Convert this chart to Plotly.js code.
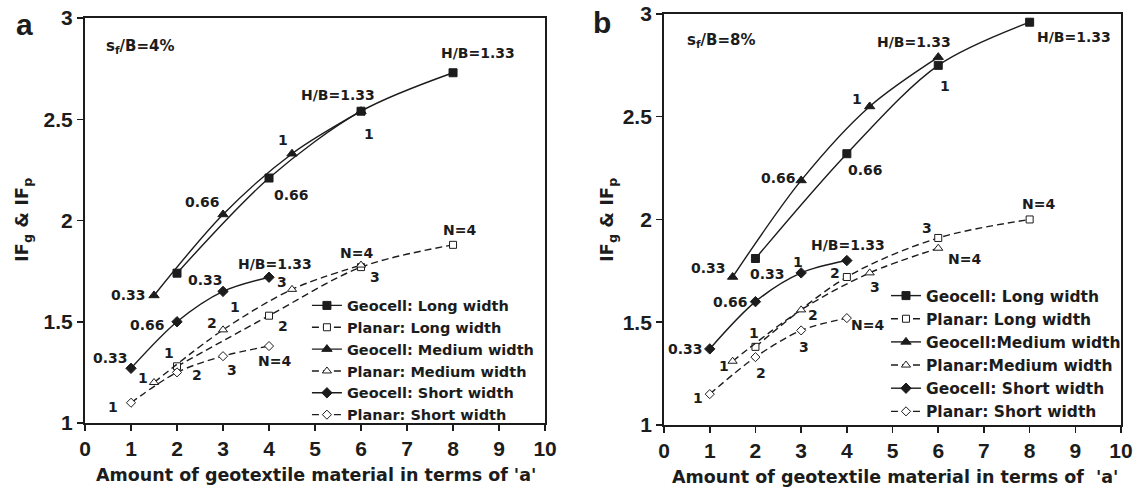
<!DOCTYPE html>
<html><head><meta charset="utf-8">
<script src="https://cdn.plot.ly/plotly-3.0.1.min.js"></script>
<style>html,body{margin:0;padding:0;background:#fff}#chart{width:1141px;height:489px}</style>
</head><body><div id="chart"></div>
<script>
// ---------- data ----------
const xLong   = [2, 4, 6, 8];
const xMedium = [1.5, 3, 4.5, 6];
const xShort  = [1, 2, 3, 4];
const geocellPointLabels = ['0.33', '0.66', '1', 'H/B=1.33'];
const planarPointLabels  = ['1', '2', '3', 'N=4'];
const xTickVals = [0,1,2,3,4,5,6,7,8,9,10];
const yTickVals = [1, 1.5, 2, 2.5, 3];

// panel a : s_f/B = 4%
const aGeoLong    = [1.74, 2.21, 2.54, 2.73];
const aPlaLong    = [1.28, 1.53, 1.77, 1.88];
const aGeoMedium  = [1.63, 2.03, 2.33, 2.54];
const aPlaMedium  = [1.20, 1.46, 1.66, 1.78];
const aGeoShort   = [1.27, 1.50, 1.65, 1.72];
const aPlaShort   = [1.10, 1.25, 1.33, 1.38];
const aNames = ['Geocell: Long width','Planar: Long width','Geocell: Medium width','Planar: Medium width','Geocell: Short width','Planar: Short width'];

// panel b : s_f/B = 8%
const bGeoLong    = [1.81, 2.32, 2.75, 2.96];
const bPlaLong    = [1.38, 1.72, 1.91, 2.00];
const bGeoMedium  = [1.72, 2.19, 2.55, 2.79];
const bPlaMedium  = [1.31, 1.56, 1.74, 1.86];
const bGeoShort   = [1.37, 1.60, 1.74, 1.80];
const bPlaShort   = [1.15, 1.33, 1.46, 1.52];
const bNames = ['Geocell: Long width','Planar: Long width','Geocell:Medium width','Planar:Medium width','Geocell: Short width','Planar: Short width'];

// ---------- styling ----------
const INK = '#1c1c1c';
const FONT = 'Liberation Sans, Arial, Helvetica, sans-serif';
const WIDE = 'DejaVu Sans, Liberation Sans, Arial, sans-serif';
const styles = [
  {symbol:'square',      size:8, fill:INK,    dash:'solid'},
  {symbol:'square',      size:7, fill:'#fff', dash:'7px,4px'},
  {symbol:'triangle-up', size:9, fill:INK,    dash:'solid'},
  {symbol:'triangle-up', size:8, fill:'#fff', dash:'7px,4px'},
  {symbol:'diamond',     size:8, fill:INK,    dash:'solid'},
  {symbol:'diamond',     size:7, fill:'#fff', dash:'7px,4px'}
];
// label pixel offsets [dx, dy(screen-down)] per series per point
const aOffsets = [
  [[28,7],[22,17],[8,23],[25,-20]],
  [[-8,-13],[14,10],[14,10],[6,-15]],
  [[-26,0],[-21,-12],[-9,-14],[-23,-16]],
  [[-11,-4],[-11,-7],[-10,-7],[-5,-12]],
  [[-21,-10],[-30,3],[12,16],[6,-13]],
  [[-18,4],[20,3],[9,14],[5,15]]
];
const bOffsets = [
  [[12,15],[19,16],[7,21],[44,15]],
  [[-1,-14],[-12,-4],[-11,-10],[9,-15]],
  [[-24,-9],[-23,-2],[-13,-7],[-24,-15]],
  [[-9,5],[12,5],[5,14],[26,11]],
  [[-24,0],[-25,0],[-3,-11],[1,-16]],
  [[-12,4],[6,16],[3,17],[21,7]]
];

const traces = [];
const annotations = [];
function addPanel(series, names, offsets, xa, ya, legendId){
  series.forEach((s, i) => {
    const st = styles[i];
    traces.push({
      type:'scatter', mode:'lines+markers', x:s.x, y:s.y, name:names[i],
      xaxis:xa, yaxis:ya, legend:legendId, cliponaxis:false,
      line:{color:INK, width:1.4, dash:st.dash, shape:'spline', smoothing:0.9},
      marker:{symbol:st.symbol, size:st.size, color:st.fill, line:{color:INK, width:1}}
    });
    const labels = (i % 2 === 0) ? geocellPointLabels : planarPointLabels;
    s.x.forEach((xv, j) => {
      annotations.push({
        xref:xa, yref:ya, x:xv, y:s.y[j], text:labels[j], showarrow:false,
        xshift:offsets[i][j][0], yshift:-offsets[i][j][1],
        font:{family:WIDE, size:14, color:INK, weight:'bold'}
      });
    });
  });
}
addPanel([
  {x:xLong,y:aGeoLong},{x:xLong,y:aPlaLong},{x:xMedium,y:aGeoMedium},
  {x:xMedium,y:aPlaMedium},{x:xShort,y:aGeoShort},{x:xShort,y:aPlaShort}
], aNames, aOffsets, 'x', 'y', 'legend');
addPanel([
  {x:xLong,y:bGeoLong},{x:xLong,y:bPlaLong},{x:xMedium,y:bGeoMedium},
  {x:xMedium,y:bPlaMedium},{x:xShort,y:bGeoShort},{x:xShort,y:bPlaShort}
], bNames, bOffsets, 'x2', 'y2', 'legend2');

function paperText(x, y, text, size, family, extra){
  return Object.assign({xref:'paper', yref:'paper', x:x, y:y, text:text, showarrow:false,
    xanchor:'center', yanchor:'middle', font:{family:family, size:size, color:INK, weight:'bold'}}, extra||{});
}
annotations.push(
  paperText(0.0219, 0.9489, 'a', 30, FONT),
  paperText(0.5276, 0.953, 'b', 30, FONT),
  paperText(0.1227, 0.9039, 's<sub>f</sub>/B=4%', 15, WIDE),
  paperText(0.6319, 0.918, 's<sub>f</sub>/B=8%', 15, WIDE),
  paperText(0.277, 0.0286, "Amount of geotextile material in terms of 'a'", 17.5, WIDE),
  paperText(0.7844, 0.0245, "Amount of geotextile material in terms of  'a'", 17.5, WIDE),
  paperText(0.0202, 0.55, 'IF<sub>g</sub> &amp; IF<sub>p</sub>', 18, WIDE, {textangle:-90}),
  paperText(0.5329, 0.55, 'IF<sub>g</sub> &amp; IF<sub>p</sub>', 18, WIDE, {textangle:-90})
);

function xAxis(domain, anchor){
  return {domain:domain, anchor:anchor, range:[0,10], tickvals:xTickVals, ticks:'outside', ticklen:6, tickwidth:1.5,
    tickcolor:INK, showline:true, linewidth:2, linecolor:INK, mirror:true, showgrid:false, zeroline:false,
    tickfont:{family:FONT, size:21, color:INK, weight:'bold'}, automargin:false, fixedrange:true};
}
function yAxis(domain, anchor){
  return {domain:domain, anchor:anchor, range:[1,3], tickvals:yTickVals, ticks:'outside', ticklen:6, tickwidth:1.5,
    tickcolor:INK, showline:true, linewidth:2, linecolor:INK, mirror:true, showgrid:false, zeroline:false,
    tickfont:{family:FONT, size:21, color:INK, weight:'bold'}, automargin:false, fixedrange:true};
}
const legendBase = {bgcolor:'rgba(0,0,0,0)', borderwidth:0, xanchor:'left', yanchor:'top', itemwidth:30,
  tracegroupgap:0};

const layout = {
  width:1141, height:489, margin:{l:0, r:0, t:0, b:0},
  paper_bgcolor:'#fff', plot_bgcolor:'#fff', showlegend:true,
  font:{family:FONT, color:INK},
  xaxis: xAxis([0.0745, 0.4777], 'y'),
  yaxis: yAxis([0.135, 0.963], 'x'),
  xaxis2: xAxis([0.582, 0.9825], 'y2'),
  yaxis2: yAxis([0.131, 0.9714], 'x2'),
  legend: Object.assign({}, legendBase, {x:0.269, y:0.408,
    font:{family:WIDE, size:14.5, color:INK, weight:'bold'}}),
  legend2: Object.assign({}, legendBase, {x:0.7765, y:0.4294,
    font:{family:WIDE, size:15.5, color:INK, weight:'bold'}}),
  annotations: annotations
};
Plotly.newPlot('chart', traces, layout, {displayModeBar:false, staticPlot:true});
</script></body></html>
